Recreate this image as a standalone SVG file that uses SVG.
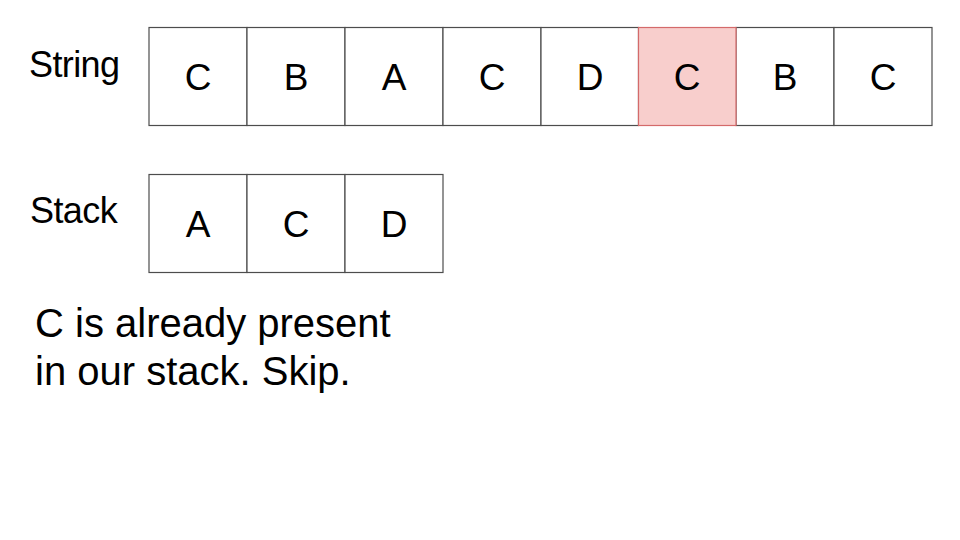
<svg xmlns="http://www.w3.org/2000/svg" width="960" height="540" viewBox="0 0 960 540">
<style>
.cell{fill:#ffffff;stroke:#4d4d4d;stroke-width:1.2}
.hl{fill:#f8cecc;stroke:#d46a6a;stroke-width:1.2}
.t{font-family:"Liberation Sans",Arial,sans-serif;fill:#000;text-anchor:middle;font-size:37px}
.lbl{font-family:"Liberation Sans",Arial,sans-serif;fill:#000;font-size:36px;letter-spacing:-0.6px}
.note{font-family:"Liberation Sans",Arial,sans-serif;fill:#000;font-size:40px}
</style>
<rect width="960" height="540" fill="#ffffff"/>
<text class="lbl" x="29" y="77">String</text>
<text class="lbl" x="30" y="223">Stack</text>
<g id="string">
<g id="s0"><rect class="cell" x="149" y="27.5" width="98" height="98"/><text class="t" x="198" y="90">C</text></g>
<g id="s1"><rect class="cell" x="247" y="27.5" width="98" height="98"/><text class="t" x="296" y="90">B</text></g>
<g id="s2"><rect class="cell" x="345" y="27.5" width="98" height="98"/><text class="t" x="394" y="90">A</text></g>
<g id="s3"><rect class="cell" x="443" y="27.5" width="98" height="98"/><text class="t" x="492" y="90">C</text></g>
<g id="s4"><rect class="cell" x="541" y="27.5" width="97.5" height="98"/><text class="t" x="590" y="90">D</text></g>
<g id="s6"><rect class="cell" x="736" y="27.5" width="98" height="98"/><text class="t" x="785" y="90">B</text></g>
<g id="s7"><rect class="cell" x="834" y="27.5" width="98" height="98"/><text class="t" x="883" y="90">C</text></g>
<g id="s5"><rect class="hl" x="638.5" y="27.5" width="97.5" height="98"/><text class="t" x="687" y="90">C</text></g>
</g>
<g id="stack">
<g id="k0"><rect class="cell" x="149" y="174.5" width="98" height="98"/><text class="t" x="198" y="237">A</text></g>
<g id="k1"><rect class="cell" x="247" y="174.5" width="98" height="98"/><text class="t" x="296" y="237">C</text></g>
<g id="k2"><rect class="cell" x="345" y="174.5" width="98" height="98"/><text class="t" x="394" y="237">D</text></g>
</g>
<g id="connectors"></g>
<text class="note" x="35" y="337">C is already present</text>
<text class="note" x="35" y="385">in our stack. Skip.</text>
</svg>
